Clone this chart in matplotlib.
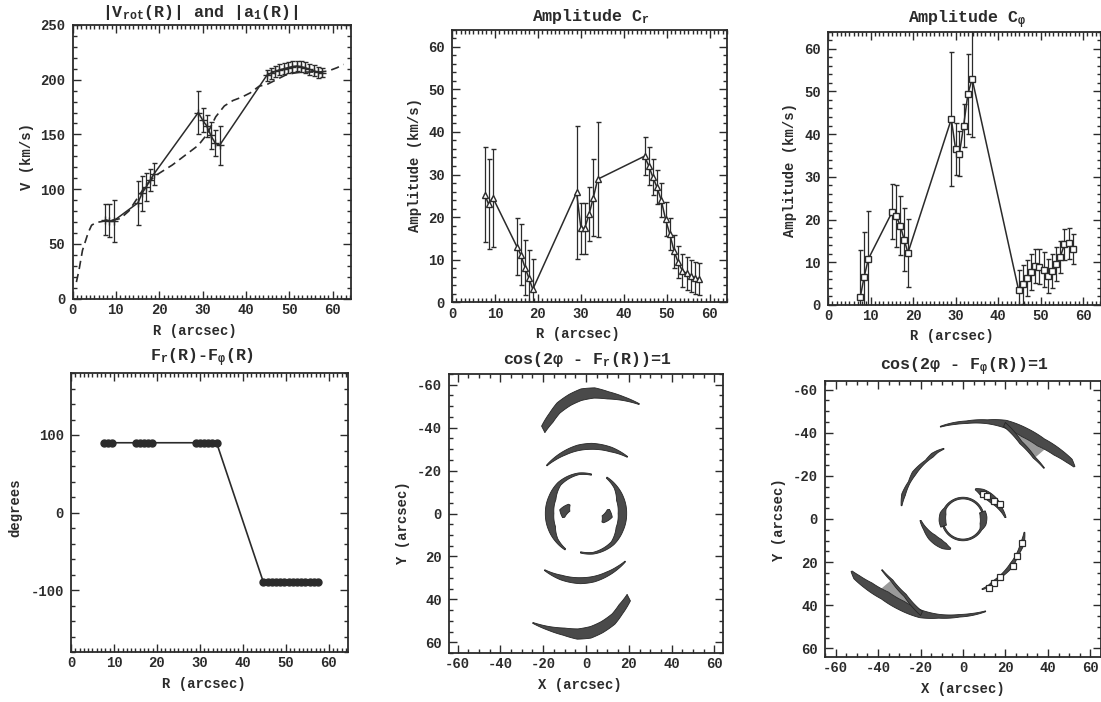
import numpy as np
import matplotlib
matplotlib.use('Agg')
import matplotlib.pyplot as plt
from matplotlib.ticker import MultipleLocator

plt.rcParams['font.family'] = ['Liberation Mono', 'DejaVu Sans']
plt.rcParams['font.weight'] = 'bold'
plt.rcParams['mathtext.fontset'] = 'custom'
plt.rcParams['mathtext.rm'] = 'Liberation Mono:bold'
plt.rcParams['mathtext.it'] = 'Liberation Mono:bold'
plt.rcParams['mathtext.bf'] = 'Liberation Mono:bold'
plt.rcParams['axes.unicode_minus'] = False

INK = '#2b2b2b'

# ---------------- data ----------------
R_pts = [7.6, 8.5, 9.5,
         15.1, 16.0, 17.0, 17.9, 18.8,
         29.0, 30.0, 30.9, 31.9, 32.9, 33.9,
         44.8, 45.8, 46.7, 47.7, 48.7, 49.7, 50.7, 51.7, 52.6, 53.6, 54.6, 55.6, 56.6, 57.5]

v_rot = [72, 71, 71,
         87.5, 96, 102, 108, 114,
         170, 163, 158, 149, 142, 140,
         204, 206, 207.5, 209, 210, 211, 212, 212.5, 212, 211, 209.5, 208, 207, 206.5]
v_rot_err = [14, 15, 19,
             20, 16, 13, 10, 10,
             20, 11, 10, 12, 12, 18,
             5, 5, 5, 5, 5, 5, 5, 5, 5, 5, 5, 5, 5, 4]

a1_R = [0.9, 1.5, 2.3, 3.6, 4.4, 5.5, 7.0, 9.0, 11.0, 13.0, 15.0, 17.0, 19.0, 21.0, 23.0,
        25.0, 27.0, 29.0, 31.0, 33.0, 35.0, 37.0, 39.0, 41.0, 43.0, 45.0, 47.0, 49.0,
        51.0, 53.0, 55.0, 57.0, 59.0, 61.0, 62.5]
a1_V = [15, 26, 44, 60, 67, 69.5, 70.5, 71.5, 73, 80, 92, 104, 112, 117, 122,
        128, 134, 140, 150, 166, 176, 181, 184, 188, 194, 196, 200, 204,
        206, 207, 207, 207, 208, 211, 214]

c_r = [25.3, 23.1, 24.6,
       13.1, 11.2, 8.2, 5.7, 3.1,
       25.8, 17.4, 17.4, 20.7, 24.6, 28.9,
       34.3, 32.0, 29.5, 27.0, 24.0, 19.5, 16.0, 12.0, 9.5, 7.5, 6.8, 6.2, 5.8, 5.5]
c_r_err = [11.2, 10.5, 11.5,
           6.7, 7.2, 6.4, 6.5, 7.0,
           15.6, 6.0, 6.0, 6.3, 9.0, 13.5,
           4.5, 4.5, 4.2, 4.0, 4.0, 4.0, 3.8, 3.8, 3.8, 3.8, 3.8, 3.8, 3.8, 3.8]

c_phi = [1.9, 6.6, 10.8,
         21.8, 20.8, 18.6, 15.3, 12.2,
         43.5, 36.5, 35.4, 42.0, 49.4, 52.9,
         3.6, 4.8, 6.3, 7.7, 9.2, 9.0, 8.3, 6.7, 7.9, 9.5, 11.2, 14.2, 14.4, 13.1]
c_phi_err = [11.0, 10.5, 11.3,
             6.4, 7.2, 7.0, 7.4, 7.9,
             15.6, 6.0, 5.2, 5.0, 9.4, 13.7,
             4.5, 4.5, 4.2, 4.2, 4.0, 4.0, 4.0, 4.0, 4.0, 4.0, 3.8, 3.6, 3.6, 3.6]

phase_diff = [90, 90, 90,
              90, 90, 90, 90, 90,
              90, 90, 90, 90, 90, 90,
              -90, -90, -90, -90, -90, -90, -90, -90, -90, -90, -90, -90, -90, -90]

# Loci cos(2phi - F(R)) = 1 : arcs (angle deg, radius arcsec, half width); each drawn with its 180 deg twin
fr_arcs = [
    ([-117, -110, -104.7, -98, -92.3, -86, -79.4, -72, -64],
     [44, 47.5, 50.8, 53.5, 55.4, 56.3, 56.0, 56.3, 56.7],
     [1.7, 2.3, 2.5, 2.6, 2.7, 2.4, 1.7, 0.9, 0.2]),
    ([-129.4, -120, -109.2, -97, -85.4, -68.6, -53.7],
     [28.9, 29.3, 29.9, 30.8, 31.4, 32.0, 32.7],
     [0.2, 0.6, 1.0, 1.3, 1.4, 1.1, 0.2]),
    ([-240, -222, -203, -180, -155, -132, -100, -82],
     [19.3, 18.5, 17.3, 17.0, 17.3, 18.6, 18.8, 18.3],
     [0.3, 0.8, 1.8, 2.0, 1.8, 0.9, 0.4, 0.3]),
    ([-190, -172, -152],
     [10.6, 10.0, 8.8],
     [0.5, 2.4, 0.4]),
]

fphi_arcs = [
    ([-104, -95, -88, -76, -66, -54, -44, -34.7, -28.3, -24.8],
     [44.1, 44.5, 44.9, 46.5, 48.3, 49.5, 51.1, 54.2, 56.9, 57.8],
     [0.2, 0.5, 0.6, 0.9, 1.8, 2.3, 2.3, 2.1, 1.5, 0.3]),
    ([-66, -52.5, -40.5, -31.7],
     [48.0, 44.7, 44.0, 44.9],
     [1.0, 0.7, 0.5, 0.2]),
    ([-168, -158, -146, -137.5, -123, -116, -111, -105.4],
     [29.6, 30.2, 30.5, 31.3, 32.0, 32.9, 33.5, 33.8],
     [0.2, 0.9, 0.5, 1.0, 0.5, 0.9, 0.5, 0.2]),
    ([-67, -55, -43, -30, -15, -2],
     [15.0, 15.3, 15.8, 16.8, 18.3, 20.0],
     [0.3, 1.5, 1.9, 1.8, 0.9, 0.3]),
    ([-200, -185, -165, -150, -120, -60, -35, -20],
     [9.7, 9.7, 9.7, 9.7, 9.7, 9.7, 9.7, 9.7],
     [1.4, 1.6, 1.4, 0.5, 0.4, 0.4, 0.4, 0.4]),
]
fphi_fork_theta = [-66, -40]

sq_theta = [22, 34, 42.5, 57, 64, 69, -51, -43.5, -30, -22]
sq_r = [30.2, 30.5, 32.0, 32.0, 32.9, 34.3, 15.2, 15.7, 17.0, 19.0]

# ---------------- figure ----------------
W, H = 1101, 702
fig = plt.figure(figsize=(W / 100, H / 100), dpi=100)


def ax_at(l, t, r, b):
    return fig.add_axes([l / W, 1 - b / H, (r - l) / W, (b - t) / H])


def style(ax, xmaj, xmin, ymaj, ymin):
    ax.xaxis.set_major_locator(MultipleLocator(xmaj))
    ax.xaxis.set_minor_locator(MultipleLocator(xmin))
    ax.yaxis.set_major_locator(MultipleLocator(ymaj))
    ax.yaxis.set_minor_locator(MultipleLocator(ymin))
    ax.tick_params(which='both', direction='in', top=True, right=True, color=INK,
                   labelsize=10, labelcolor=INK, width=1.0)
    ax.tick_params(which='major', length=6)
    ax.tick_params(axis='x', which='major', pad=3)
    ax.tick_params(axis='y', which='major', pad=5)
    ax.tick_params(which='minor', length=3)
    for s in ax.spines.values():
        s.set_color(INK)
        s.set_linewidth(1.3)


def ftext(x, y, s, size=10, rot=0):
    fig.text(x / W, 1 - y / H, s, ha='center', va='center', fontsize=size,
             rotation=rot, color=INK, fontweight='bold')


def draw_arc(ax, th, r, hw, rot, fc, ec):
    t = np.linspace(th[0], th[-1], 240)
    rr = np.interp(t, th, r)
    ww = np.interp(t, th, hw)
    a = np.deg2rad(t + rot)
    xo, yo = (rr + ww) * np.cos(a), (rr + ww) * np.sin(a)
    xi, yi = (rr - ww) * np.cos(a), (rr - ww) * np.sin(a)
    ax.fill(np.r_[xo, xi[::-1]], np.r_[yo, yi[::-1]], fc=fc, ec=ec, lw=0.6, zorder=3)


eb = dict(color=INK, lw=1.1, elinewidth=0.9, capsize=1.8, capthick=0.9)

# Panel 1
ax1 = ax_at(72.5, 25, 351, 298.5)
ax1.plot(a1_R, a1_V, color=INK, lw=1.2, dashes=(5, 3))
ax1.errorbar(R_pts, v_rot, yerr=v_rot_err, marker='+', ms=6, mew=1.0, **eb)
ax1.set_xlim(0, 64.2)
ax1.set_ylim(0, 250)
style(ax1, 10, 1, 50, 10)
ftext(200, 12, r'|V$_{rot}$(R)| and |a$_1$(R)|', 12)
ftext(195, 331, 'R (arcsec)')
ftext(27, 157, 'V (km/s)', rot=90)

# Panel 2
ax2 = ax_at(452, 29.5, 727, 302.5)
ax2.errorbar(R_pts, c_r, yerr=c_r_err, marker='^', ms=5, mfc='white', mec=INK, mew=1.0, **eb)
ax2.set_xlim(0, 64)
ax2.set_ylim(0, 64)
style(ax2, 10, 1, 10, 2)
ftext(591, 17, r'Amplitude C$_r$', 12)
ftext(578, 334, 'R (arcsec)')
ftext(415, 165, 'Amplitude (km/s)', rot=90)

# Panel 3
ax3 = ax_at(828, 31.5, 1101, 305)
ax3.errorbar(R_pts, c_phi, yerr=c_phi_err, marker='s', ms=4.5, mfc='white', mec=INK, mew=1.0, **eb)
ax3.set_xlim(0, 64.2)
ax3.set_ylim(0, 64)
style(ax3, 10, 1, 10, 2)
ftext(967, 20, r'Amplitude C$_φ$', 12)
ftext(952, 336, 'R (arcsec)')
ftext(790, 170, 'Amplitude (km/s)', rot=90)

# Panel 4
ax4 = ax_at(71, 373, 348, 652)
ax4.plot(R_pts, phase_diff, color=INK, lw=1.2, marker='o', ms=5, mfc=INK, mec=INK)
ax4.set_xlim(0, 64.5)
ax4.set_ylim(-180, 180)
style(ax4, 10, 1, 100, 20)
ftext(202, 358, r'F$_r$(R)-F$_φ$(R)', 12)
ftext(204, 684, 'R (arcsec)')
ftext(15, 508, 'degrees', rot=90)

# Panel 5
ax5 = ax_at(449, 374, 723, 653)
for th, r, hw in fr_arcs:
    for rot in (0, 180):
        draw_arc(ax5, th, r, hw, rot, '#4a4a4a', '#262626')
ax5.set_xlim(-64, 64)
ax5.set_ylim(65, -65)
style(ax5, 20, 5, 20, 5)
ftext(587, 360, r'cos(2φ - F$_r$(R))=1', 12)
ftext(580, 685, 'X (arcsec)')
ftext(403, 523, 'Y (arcsec)', rot=90)

# Panel 6
ax6 = ax_at(825, 381, 1101, 657)
inner_th, inner_r, _ = fphi_arcs[1]
outer_th, outer_r, outer_hw = fphi_arcs[0]
tf = np.linspace(fphi_fork_theta[0], fphi_fork_theta[1], 100)
r_in = np.interp(tf, inner_th, inner_r)
r_out = np.interp(tf, outer_th, outer_r) - np.interp(tf, outer_th, outer_hw)
for rot in (0, 180):
    a = np.deg2rad(tf + rot)
    ax6.fill(np.r_[r_out * np.cos(a), (r_in * np.cos(a))[::-1]],
             np.r_[r_out * np.sin(a), (r_in * np.sin(a))[::-1]],
             fc='#9a9a9a', ec='none', zorder=2)
for th, r, hw in fphi_arcs:
    for rot in (0, 180):
        draw_arc(ax6, th, r, hw, rot, '#4a4a4a', '#262626')
sq_a = np.deg2rad(sq_theta)
ax6.plot(np.array(sq_r) * np.cos(sq_a), np.array(sq_r) * np.sin(sq_a), ls='none',
         marker='s', ms=4, mfc='white', mec=INK, mew=0.9, zorder=4)
ax6.set_xlim(-65, 65)
ax6.set_ylim(64, -64)
style(ax6, 20, 5, 20, 5)
ftext(964, 367, r'cos(2φ - F$_φ$(R))=1', 12)
ftext(963, 689, 'X (arcsec)')
ftext(779, 520, 'Y (arcsec)', rot=90)

fig.savefig('out.png', dpi=100, facecolor='white')
